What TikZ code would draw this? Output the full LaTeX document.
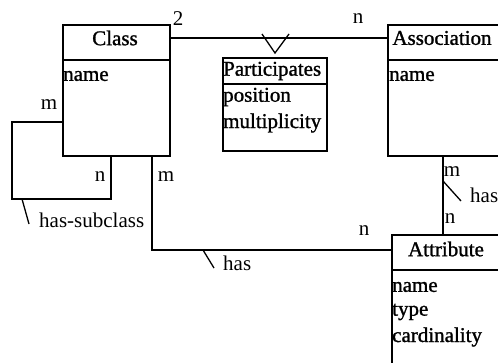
\documentclass[tikz,border=0pt]{standalone}
\usepackage{fontspec}
\setmainfont{Liberation Serif}
\newfontface\boxfont{Liberation Serif}[FakeBold=1.2]
\begin{document}
\begin{tikzpicture}[x=1pt,y=-1pt,
  box/.style={draw,line width=1.8pt,anchor=north west,inner sep=0pt},
  conn/.style={line width=1.3pt},
  divline/.style={line width=1.8pt},
  txt/.style={inner sep=0pt,font=\fontsize{21}{25}\boxfont},
  lbl/.style={inner sep=0pt,font=\fontsize{21}{25}\selectfont}]
\useasboundingbox (0,0) rectangle (498,362);
\clip (0,0) rectangle (498,362);
% boxes
\node[box,minimum width=107pt,minimum height=131pt] (class) at (62,24) {};
\node[box,minimum width=120pt,minimum height=131pt] (assoc) at (387,24) {};
\node[box,minimum width=104pt,minimum height=93pt] (part) at (222,57) {};
\node[box,minimum width=120pt,minimum height=140pt] (attr) at (391,234) {};
% dividers
\draw[divline] (62,60) -- (169,60);
\draw[divline] (387,60) -- (507,60);
\draw[divline] (222,84) -- (326,84);
\draw[divline] (391,270) -- (511,270);
% texts
\node[txt] (tclass) at (115,38) {Class};
\node[txt,anchor=west] (tclassname) at (63,76) {name};
\node[txt] (tassoc) at (442,38) {Association};
\node[txt,anchor=west] (tassocname) at (389,76) {name};
\node[txt,anchor=west] (tpart) at (223,71) {Participates};
\node[txt,anchor=west] (tpos) at (223,97) {position};
\node[txt,anchor=west] (tmult) at (223,123) {multiplicity};
\node[txt] (tattr) at (446,249) {Attribute};
\node[txt,anchor=west] (tattrname) at (392,287) {name};
\node[txt,anchor=west] (tattrtype) at (392,312) {type};
\node[txt,anchor=west] (tattrcard) at (392,337) {cardinality};
% connectors
\draw[conn] (class.east |- 0,38) -- (assoc.west |- 0,38);
\draw[conn] (262,34) -- (275,53) -- (289,34);
\draw[conn] (class.west |- 0,122) -- (12,122) -- (12,199) -- (111,199) -- (class.south -| 111,0);
\draw[conn] (class.south -| 152,0) -- (152,250) -- (attr.west |- 0,250);
\draw[conn] (assoc.south -| 443,0) -- (attr.north -| 443,0);
% ticks
\draw[conn] (22,199) -- (29,224);
\draw[conn] (203,250) -- (214,268);
\draw[conn] (443,181) -- (461,201);
% labels
\node[lbl] (l2) at (178,19) {2};
\node[lbl] (ln1) at (358,19) {n};
\node[lbl] (lm1) at (49,105) {m};
\node[lbl] (ln2) at (100,177) {n};
\node[lbl] (lm2) at (166,177) {m};
\node[lbl,anchor=west] (lsub) at (39,220) {has-subclass};
\node[lbl,anchor=west] (lhas1) at (223,263) {has};
\node[lbl] (ln3) at (364,231) {n};
\node[lbl] (lm3) at (452,172) {m};
\node[lbl,anchor=west] (lhas2) at (470,195) {has};
\node[lbl] (ln4) at (450,219) {n};
\end{tikzpicture}
\end{document}
